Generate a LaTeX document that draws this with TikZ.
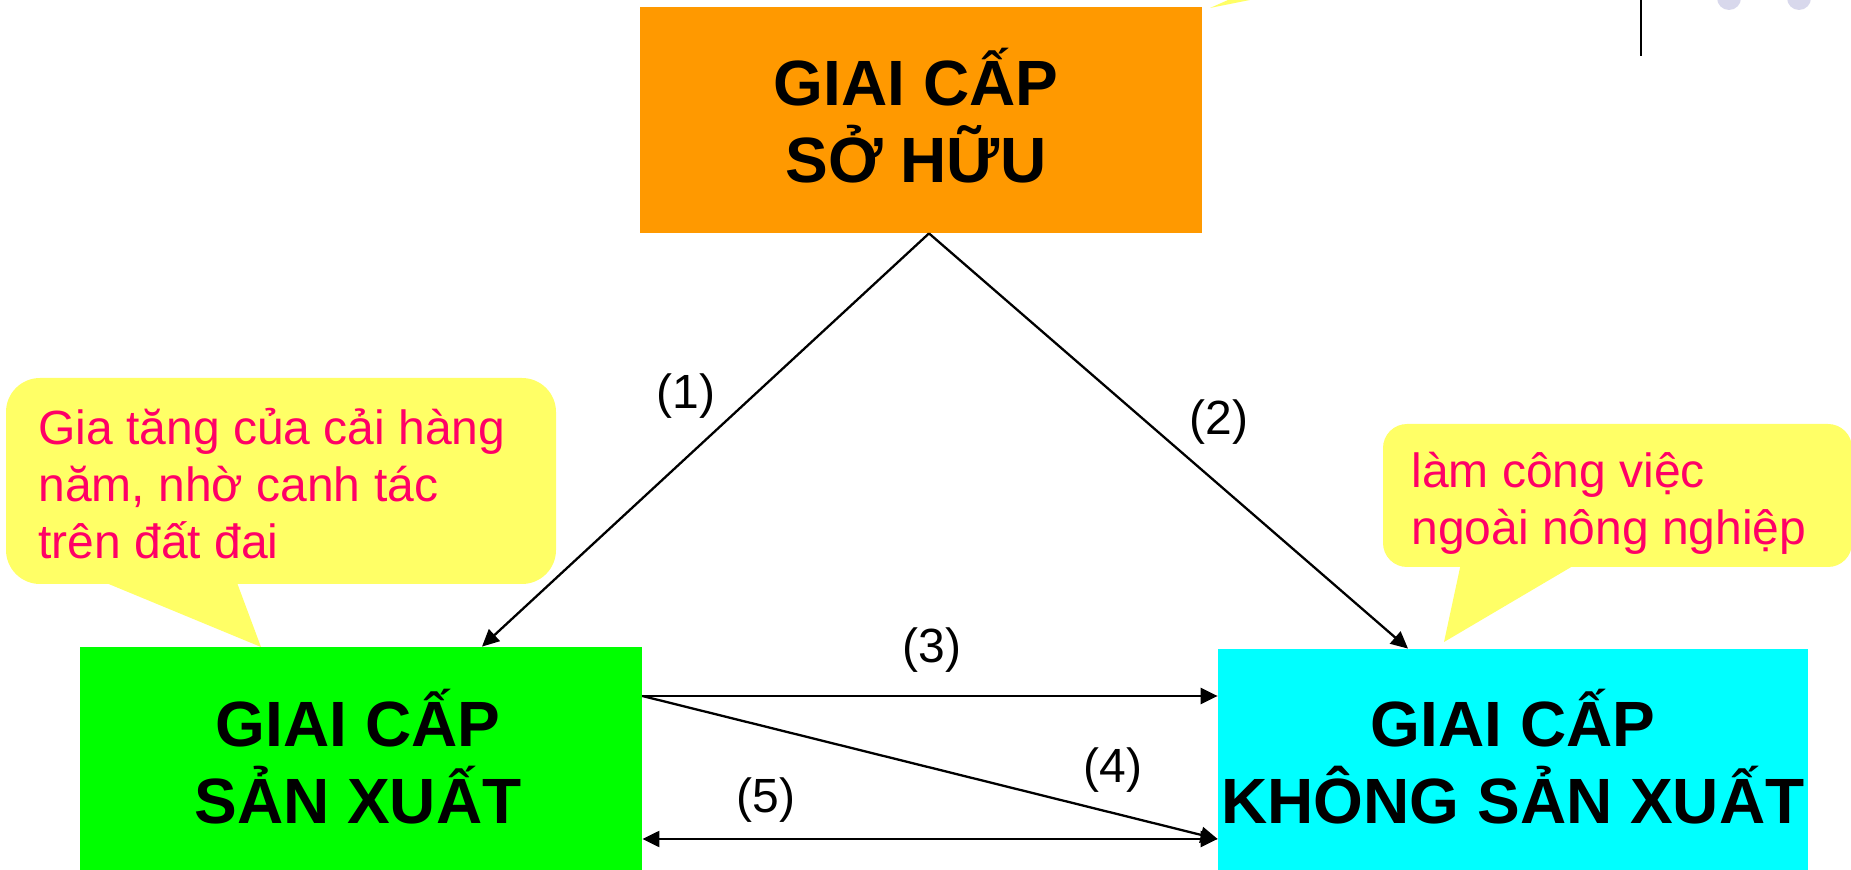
\documentclass[tikz,border=0pt]{standalone}
\usepackage{fontspec}
\setmainfont{Liberation Sans}
\usetikzlibrary{arrows.meta}
\definecolor{boxorange}{HTML}{FF9900}
\definecolor{boxgreen}{HTML}{00FF00}
\definecolor{boxcyan}{HTML}{00FFFF}
\definecolor{callyellow}{HTML}{FFFF66}
\definecolor{callpink}{HTML}{FF0066}
\definecolor{dotlav}{HTML}{D8D8EC}
\begin{document}
\begin{tikzpicture}[x=0.5pt,y=-0.5pt,
  classbox/.style={rectangle, inner sep=0pt, draw=none},
  classtext/.style={font=\bfseries\fontsize{32}{38.5}\selectfont, align=center, inner sep=0pt, anchor=base},
  calltext/.style={font=\fontsize{24}{28.5}\selectfont, text=callpink, align=left, inner sep=0pt, anchor=base west},
  numlabel/.style={font=\fontsize{24}{28.8}\selectfont, inner sep=0pt},
  arr/.style={line width=1.15pt, -{Triangle[length=8.5pt,width=8pt]}},
  arrboth/.style={line width=1.15pt, {Triangle[length=8.5pt,width=8pt]}-{Triangle[length=8.5pt,width=8pt]}},
  callfill/.style={fill=callyellow, draw=none}]
\useasboundingbox (0,0) rectangle (1851,870);
\clip (0,0) rectangle (1851,870);
% top-right decorations
\fill[callfill] (1210,8) -- (1250,0) -- (1228,0) -- cycle;
\draw[line width=1.1pt] (1641,0) -- (1641,56);
\fill[dotlav] (1729,-2) circle[radius=6pt];
\fill[dotlav] (1799,-2) circle[radius=6pt];
% left callout
\node[classbox, fill=callyellow, rounded corners=17pt, minimum width=275pt, minimum height=103pt] (c1) at (281,481) {};
\fill[callfill] (99,580) -- (261,647) -- (236,580) -- cycle;
\node[calltext] (c1t) at (38,559) {Gia tăng của cải hàng\\năm, nhờ canh tác\\trên đất đai};
% right callout
\node[classbox, fill=callyellow, rounded corners=12pt, minimum width=234.5pt, minimum height=71.5pt] (c2) at (1617.5,495.5) {};
\fill[callfill] (1461,563) -- (1444,642) -- (1578,563) -- cycle;
\node[calltext] (c2t) at (1411,545) {làm công việc\\ngoài nông nghiệp};
% class boxes
\node[classbox, fill=boxorange, minimum width=281pt, minimum height=113pt] (so) at (921,120) {};
\node[classtext] (sot) at (916,183) {GIAI CẤP\\SỞ HỮU};
\node[classbox, fill=boxgreen, minimum width=281pt, minimum height=111.5pt] (gr) at (361,758.5) {};
\node[classtext] (grt) at (358,823) {GIAI CẤP\\SẢN XUẤT};
\node[classbox, fill=boxcyan, minimum width=295pt, minimum height=110.5pt] (cy) at (1513,759.5) {};
\node[classtext] (cyt) at (1513,823) {GIAI CẤP\\KHÔNG SẢN XUẤT};
% connectors
\coordinate (y3) at (0,696);
\coordinate (y5) at (0,839);
\draw[arr] ([xshift=4pt]so.south) -- ([xshift=60.5pt]gr.north);
\draw[arr] ([xshift=4pt]so.south) -- ([xshift=-52.5pt]cy.north);
\draw[arr] (gr.east |- y3) -- (cy.west |- y3);
\draw[arr] (gr.east |- y3) -- (cy.west |- y5);
\draw[arrboth] (gr.east |- y5) -- (cy.west |- y5);
% labels
\node[numlabel] (l1) at (686,396) {(1)};
\node[numlabel] (l2) at (1219,422) {(2)};
\node[numlabel] (l3) at (932,650) {(3)};
\node[numlabel] (l4) at (1113,770) {(4)};
\node[numlabel] (l5) at (766,800) {(5)};
\end{tikzpicture}
\end{document}
